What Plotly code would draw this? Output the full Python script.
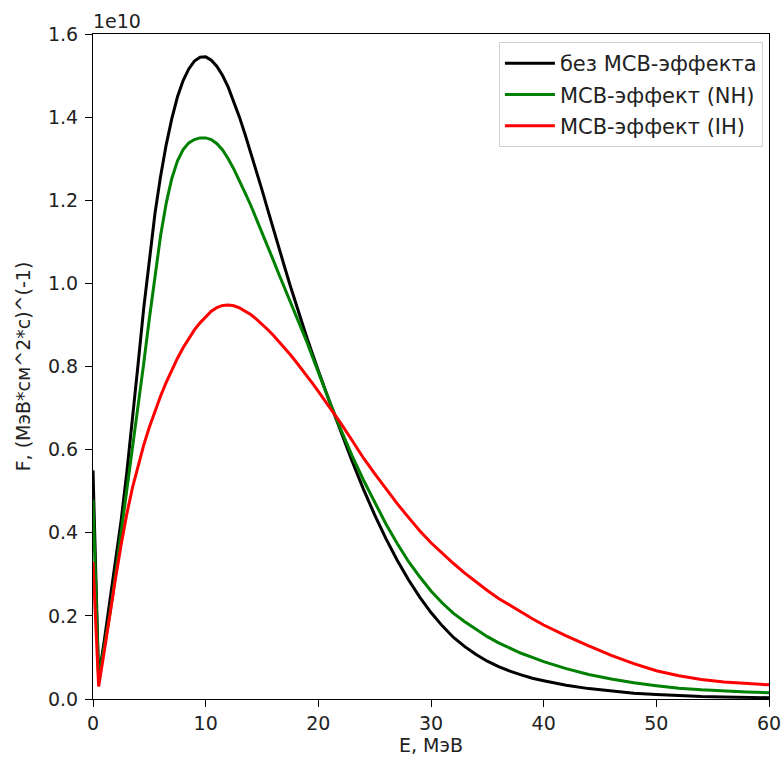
import plotly.graph_objects as go

# Energy grid, MeV
E = [0, 0.5, 1, 1.5, 2, 2.5, 3, 3.5, 4, 4.5, 5, 5.5, 6, 6.5, 7, 7.5, 8, 8.5, 9, 9.5,
     10, 10.5, 11, 11.5, 12, 12.5, 13, 13.5, 14, 14.5, 15, 15.5, 16, 16.5, 17, 17.5, 18, 18.5,
     19, 19.5, 20, 21, 22, 23, 24, 25, 26, 27, 28, 29, 30,
     31, 32, 33, 34, 35, 36, 37, 38, 39, 40,
     42, 44, 46, 48, 50, 52, 54, 56, 58, 60]

# Flux values in units of 1e10 (МэВ*см^2*с)^(-1)
F_none = [0.55, 0.05, 0.14, 0.235, 0.33, 0.43, 0.545, 0.67, 0.805, 0.94, 1.062, 1.168, 1.258, 1.334,
          1.397, 1.449, 1.488, 1.516, 1.535, 1.544,
          1.545, 1.537, 1.522, 1.50, 1.472, 1.438, 1.40, 1.358, 1.315, 1.27, 1.225, 1.178, 1.13,
          1.085, 1.04, 0.995, 0.95, 0.91,
          0.868, 0.828, 0.79, 0.715, 0.643, 0.572, 0.505, 0.443, 0.386, 0.334, 0.287, 0.245, 0.208,
          0.176, 0.148, 0.126, 0.107, 0.091, 0.078, 0.067, 0.058, 0.05, 0.044,
          0.033, 0.025, 0.019, 0.014, 0.011, 0.008, 0.006, 0.005, 0.004, 0.003]
F_nh = [0.48, 0.05, 0.125, 0.205, 0.30, 0.40, 0.497, 0.595, 0.70, 0.807, 0.915, 1.02, 1.115, 1.193,
        1.253, 1.295, 1.322, 1.338, 1.346, 1.35,
        1.35, 1.346, 1.336, 1.321, 1.30, 1.275, 1.248, 1.218, 1.188, 1.156, 1.123, 1.09, 1.056,
        1.022, 0.99, 0.958, 0.926, 0.893,
        0.858, 0.822, 0.785, 0.715, 0.648, 0.585, 0.527, 0.472, 0.421, 0.374, 0.331, 0.294, 0.26,
        0.231, 0.206, 0.186, 0.167, 0.15, 0.135, 0.122, 0.11, 0.1, 0.09,
        0.073, 0.059, 0.048, 0.039, 0.032, 0.026, 0.022, 0.019, 0.017, 0.015]
F_ih = [0.33, 0.03, 0.115, 0.205, 0.29, 0.372, 0.445, 0.508, 0.563, 0.611, 0.654, 0.693, 0.729, 0.762,
        0.792, 0.82, 0.845, 0.868, 0.888, 0.905,
        0.92, 0.933, 0.942, 0.947, 0.948, 0.946, 0.941, 0.934, 0.925, 0.914, 0.902, 0.889, 0.875,
        0.86, 0.845, 0.829, 0.812, 0.795,
        0.777, 0.759, 0.74, 0.702, 0.663, 0.622, 0.58, 0.542, 0.505, 0.47, 0.437, 0.405, 0.376,
        0.35, 0.326, 0.303, 0.281, 0.261, 0.242, 0.225, 0.209, 0.193, 0.178,
        0.152, 0.128, 0.105, 0.085, 0.068, 0.056, 0.047, 0.041, 0.037, 0.034]

names = ["без МСВ-эффекта", "МСВ-эффект (NH)", "МСВ-эффект (IH)"]
colors = ["black", "green", "red"]
yticks = [0.0, 0.2, 0.4, 0.6, 0.8, 1.0, 1.2, 1.4, 1.6]
xticks = [0, 10, 20, 30, 40, 50, 60]

font = "DejaVu Sans, Liberation Sans, sans-serif"
FS = 19

fig = go.Figure()
for i, (ys, name, c) in enumerate(zip([F_none, F_nh, F_ih], names, colors)):
    fig.add_trace(go.Scatter(x=E, y=ys, mode="lines", name=name, legendgroup=f"g{i}",
                             line=dict(color=c, width=3, shape="linear")))

axis_common = dict(showline=True, linecolor="black", linewidth=1.2, mirror=True,
                   ticks="outside", ticklen=7, tickwidth=1.2, tickcolor="black", showgrid=False,
                   zeroline=False, automargin=False, ticklabeloverflow="allow",
                   tickfont=dict(family=font, size=FS, color="#222"))

fig.update_layout(
    width=782, height=762,
    margin=dict(l=93, r=13, t=34, b=63),
    paper_bgcolor="white", plot_bgcolor="white",
    font=dict(family=font, size=FS, color="#222"),
    xaxis=dict(range=[0, 60], tickvals=xticks,
               title=dict(text="E, МэВ", font=dict(family=font, size=FS), standoff=4),
               **axis_common),
    yaxis=dict(range=[0, 1.6], tickvals=yticks, tickformat=".1f", ticklabelstandoff=3,
               title=dict(text="F, (МэВ*см^2*с)^(-1)", font=dict(family=font, size=FS), standoff=12),
               **axis_common),
    legend=dict(x=0.991, y=0.988, xanchor="right", yanchor="top",
                bgcolor="rgba(255,255,255,0.8)", bordercolor="#d0d0d0", borderwidth=1,
                font=dict(family=font, size=21, color="#222"), tracegroupgap=1, itemwidth=50),
    showlegend=True,
)
fig.add_annotation(x=0, y=1, xref="paper", yref="paper", xanchor="left", yanchor="bottom",
                   text="1e10", showarrow=False, font=dict(family=font, size=FS, color="#222"),
                   yshift=0, xshift=-2)

fig.write_html("out.html")
